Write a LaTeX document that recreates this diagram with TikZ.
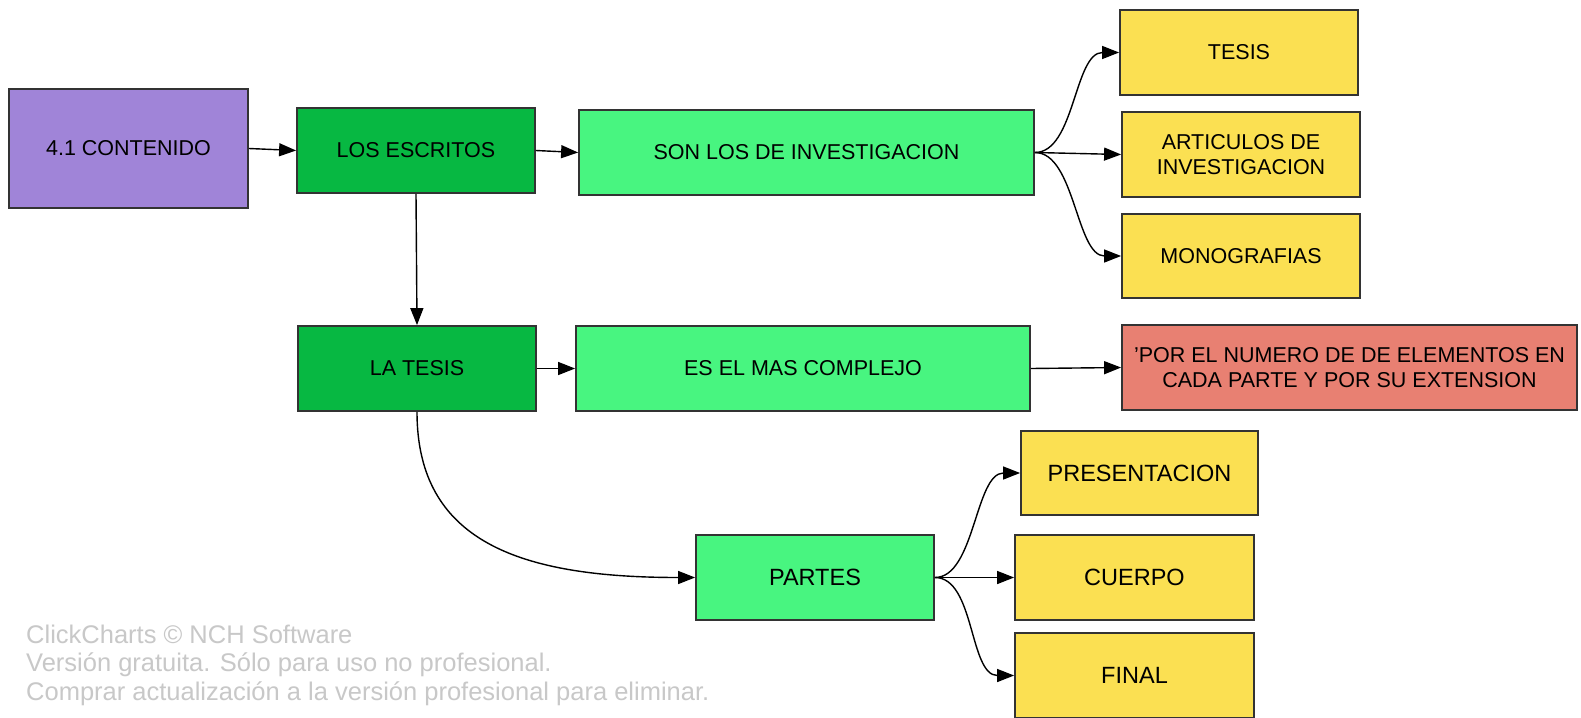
\documentclass[tikz,border=0pt]{standalone}
\usepackage{fontspec}
\setmainfont{Liberation Sans}
\usetikzlibrary{arrows.meta}
\definecolor{purp}{RGB}{160,132,216}
\definecolor{dgreen}{RGB}{7,184,66}
\definecolor{lgreen}{RGB}{72,245,128}
\definecolor{yel}{RGB}{251,224,82}
\definecolor{redb}{RGB}{232,128,114}
\definecolor{wm}{RGB}{200,200,200}
\begin{document}
\begin{tikzpicture}[x=1pt,y=-1pt,
 box/.style={draw=black!80, line width=1.8pt, inner sep=0pt, align=center,
   font=\fontsize{21.5}{25}\selectfont, text=black},
 big/.style={font=\fontsize{23.5}{27}\selectfont},
 arr/.style={-{Triangle[length=17pt,width=13pt]}, line width=1.4pt, draw=black},
 wmark/.style={anchor=base west, inner sep=0pt, text=wm, font=\fontsize{25.5}{28}\selectfont}]
\useasboundingbox (0,0) rectangle (1581,717);
\clip (0,0) rectangle (1581,717);
\fill[white] (0,0) rectangle (1581,717);

\node[box, fill=purp, minimum width=239pt, minimum height=119pt] (c) at (128.5,148.5) {4.1 CONTENIDO};
\node[box, fill=dgreen, minimum width=238pt, minimum height=85pt] (le) at (416,150.5) {LOS ESCRITOS};
\node[box, fill=lgreen, minimum width=455pt, minimum height=85pt] (son) at (806.5,152.5) {SON LOS DE INVESTIGACION};
\node[box, fill=yel, minimum width=238pt, minimum height=85pt] (tes) at (1239,52.5) {TESIS};
\node[box, fill=yel, minimum width=238pt, minimum height=85pt] (art) at (1241,154.5) {ARTICULOS DE\\INVESTIGACION};
\node[box, fill=yel, minimum width=238pt, minimum height=84pt] (mon) at (1241,256) {MONOGRAFIAS};
\node[box, fill=dgreen, minimum width=238pt, minimum height=85pt] (lt) at (417,368.5) {LA TESIS};
\node[box, fill=lgreen, minimum width=454pt, minimum height=85pt] (es) at (803,368.5) {ES EL MAS COMPLEJO};
\node[box, fill=redb, minimum width=455pt, minimum height=85pt] (por) at (1349.5,367.5) {’POR EL NUMERO DE DE ELEMENTOS EN\\CADA PARTE Y POR SU EXTENSION};
\node[box, big, fill=yel, minimum width=237pt, minimum height=84pt] (pre) at (1139.5,473) {PRESENTACION};
\node[box, big, fill=lgreen, minimum width=238pt, minimum height=85pt] (pa) at (815,577.5) {PARTES};
\node[box, big, fill=yel, minimum width=239pt, minimum height=85pt] (cu) at (1134.5,577.5) {CUERPO};
\node[box, big, fill=yel, minimum width=239pt, minimum height=85pt] (fi) at (1134.5,675.5) {FINAL};

\draw[arr] (c.east) -- (le.west);
\draw[arr] (le.east) -- (son.west);
\draw[arr] (le.south) -- (lt.north);
\draw[arr] (son.east) .. controls +(40,0) and +(-45,0) .. (tes.west);
\draw[arr] (son.east) -- (art.west);
\draw[arr] (son.east) .. controls +(40,0) and +(-45,0) .. (mon.west);
\draw[arr] (lt.east) -- (es.west);
\draw[arr] (es.east) -- (por.west);
\draw[arr] (lt.south) .. controls +(0,130) and +(-175,0) .. (pa.west);
\draw[arr] (pa.east) .. controls +(40,0) and +(-45,0) .. (pre.west);
\draw[arr] (pa.east) -- (cu.west);
\draw[arr] (pa.east) .. controls +(40,0) and +(-45,0) .. (fi.west);

\node[wmark] (w1) at (26,643) {ClickCharts © NCH Software};
\node[wmark] (w2) at (26,671.5) {Versión gratuita. Sólo para uso no profesional.};
\node[wmark] (w3) at (26,700) {Comprar actualización a la versión profesional para eliminar.};
\end{tikzpicture}
\end{document}
